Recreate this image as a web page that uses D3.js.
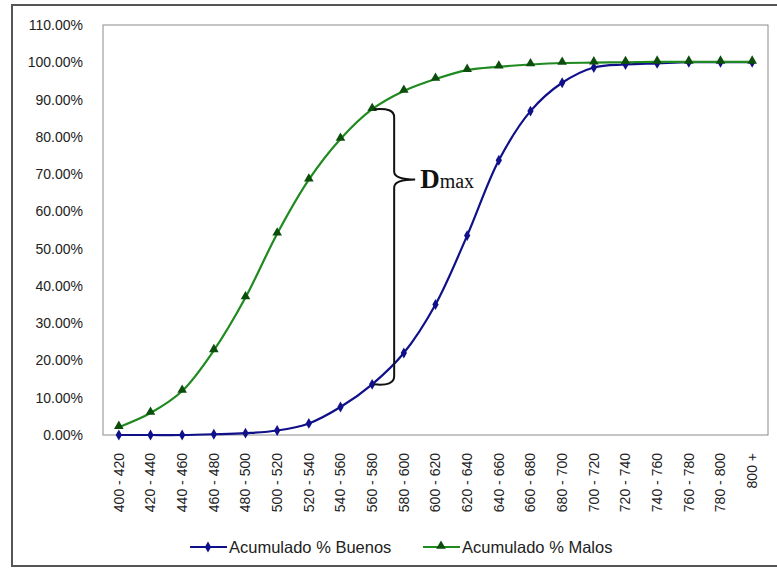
<!DOCTYPE html>
<html>
<head>
<meta charset="utf-8">
<script src="https://cdnjs.cloudflare.com/ajax/libs/d3/7.8.5/d3.min.js"></script>
<style>
  body { margin: 0; background: #fff; }
  svg { display: block; }
</style>
</head>
<body>
<script>
// rangos de score
var categories = ['400 - 420', '420 - 440', '440 - 460', '460 - 480', '480 - 500', '500 - 520',
	'520 - 540', '540 - 560', '560 - 580', '580 - 600', '600 - 620', '620 - 640', '640 - 660',
	'660 - 680', '680 - 700', '700 - 720', '720 - 740', '740 - 760', '760 - 780', '780 - 800', '800 +'];

var buenos = [0.0, 0.0, 0.0, 0.2, 0.5, 1.2, 3.1, 7.5, 13.6, 22.0, 35.0, 53.5, 73.7,
	86.9, 94.5, 98.6, 99.4, 99.7, 100.0, 100.0, 100.0];
var malos = [2.1, 5.9, 11.8, 22.7, 36.9, 54.0, 68.5, 79.4, 87.4, 92.3, 95.5, 97.9, 98.8,
	99.4, 99.8, 99.9, 100.0, 100.1, 100.1, 100.1, 100.1];

var yTicks = [0, 10, 20, 30, 40, 50, 60, 70, 80, 90, 100, 110];
var seriesNames = ['Acumulado % Buenos', 'Acumulado % Malos'];
var dmaxIndex = 8;

var svgWidth = 777, svgHeight = 570;
var plot = {left: 103, top: 25, right: 768, bottom: 435};
var font = 'Arial, "Liberation Sans", sans-serif';

var svg = d3.select('body').append('svg')
	.attr('width', svgWidth)
	.attr('height', svgHeight)
	.style('font-family', font);

// marco exterior
svg.append('rect')
	.attr('x', 12).attr('y', 5)
	.attr('width', 780 - 12).attr('height', 566 - 5)
	.attr('fill', '#fff')
	.attr('stroke', '#555').attr('stroke-width', 2);

var x = d3.scaleBand()
	.domain(categories)
	.range([plot.left, plot.right]);

var y = d3.scaleLinear()
	.domain([0, 110])
	.range([plot.bottom, plot.top]);

var cx = function(d, i) { return x(categories[i]) + x.bandwidth() / 2; };

// area del grafico
svg.append('rect')
	.attr('x', plot.left).attr('y', plot.top)
	.attr('width', plot.right - plot.left).attr('height', plot.bottom - plot.top)
	.attr('fill', '#fff')
	.attr('stroke', '#8c8c8c').attr('stroke-width', 1);

// eje y
var yAxis = svg.append('g')
	.attr('transform', 'translate(' + (plot.left - 17) + ',0)')
	.call(d3.axisLeft(y).tickValues(yTicks).tickSize(0)
		.tickFormat(function(d) { return d.toFixed(2) + '%'; }));
yAxis.select('.domain').remove();
yAxis.selectAll('text').attr('font-size', 14).attr('fill', '#222')
	.attr('font-family', font);

// eje x
var xAxis = svg.append('g')
	.attr('transform', 'translate(0,' + (plot.bottom + 18) + ')')
	.call(d3.axisBottom(x).tickSize(0));
xAxis.select('.domain').remove();
xAxis.selectAll('text')
	.attr('font-size', 14).attr('fill', '#222')
	.attr('font-family', font)
	.attr('transform', 'rotate(-90)')
	.attr('x', 0).attr('y', 0).attr('dy', '0.35em')
	.style('text-anchor', 'end');

var line = d3.line()
	.x(cx)
	.y(function(d) { return y(d); })
	.curve(d3.curveCatmullRom.alpha(0.5));

var blue = '#10108a', green = '#1f8a1f', darkGreen = '#0b4d0b';

svg.append('path').datum(buenos)
	.attr('d', line).attr('fill', 'none')
	.attr('stroke', blue).attr('stroke-width', 2.2);
svg.append('path').datum(malos)
	.attr('d', line).attr('fill', 'none')
	.attr('stroke', green).attr('stroke-width', 2.2);

var diamond = d3.symbol().type(d3.symbolDiamond).size(34);
var triangle = d3.symbol().type(d3.symbolTriangle).size(40);

svg.selectAll('.mk-b').data(buenos).enter().append('path')
	.attr('class', 'mk-b')
	.attr('d', diamond)
	.attr('transform', function(d, i) { return 'translate(' + cx(d, i) + ',' + y(d) + ')'; })
	.attr('fill', blue);

svg.selectAll('.mk-m').data(malos).enter().append('path')
	.attr('class', 'mk-m')
	.attr('d', triangle)
	.attr('transform', function(d, i) { return 'translate(' + cx(d, i) + ',' + (y(d) - 1) + ')'; })
	.attr('fill', darkGreen);

// llave Dmax
var bx = cx(null, dmaxIndex);
var yTop = y(malos[dmaxIndex]), yBot = y(buenos[dmaxIndex]);
var vx = bx + 22, tipX = vx + 21, yMid = yTop + (yBot - yTop) * 0.255;
var brace = d3.path();
brace.moveTo(bx + 2, yTop);
brace.quadraticCurveTo(vx, yTop - 2, vx, yTop + 8);
brace.lineTo(vx, yMid - 8);
brace.quadraticCurveTo(vx, yMid, tipX, yMid);
brace.moveTo(vx, yMid + 8);
brace.quadraticCurveTo(vx, yMid, tipX, yMid);
brace.moveTo(vx, yMid + 8);
brace.lineTo(vx, yBot - 8);
brace.quadraticCurveTo(vx, yBot + 2, bx + 2, yBot);
svg.append('path')
	.attr('d', brace.toString())
	.attr('fill', 'none').attr('stroke', '#111').attr('stroke-width', 2);

var dm = svg.append('text')
	.attr('x', tipX + 5).attr('y', yMid + 9)
	.attr('font-family', '"Liberation Serif", "Times New Roman", serif')
	.attr('fill', '#111');
dm.append('tspan').attr('font-size', 27).attr('font-weight', 'bold').text('D');
dm.append('tspan').attr('font-size', 20).text('max');

// leyenda
var legend = svg.append('g').attr('transform', 'translate(0,547)');
var legendItems = [
	{name: seriesNames[0], x: 190, color: blue, sym: diamond, mk: blue},
	{name: seriesNames[1], x: 423, color: green, sym: triangle, mk: darkGreen}
];
legendItems.forEach(function(it) {
	legend.append('line')
		.attr('x1', it.x).attr('x2', it.x + 37)
		.attr('y1', 0).attr('y2', 0)
		.attr('stroke', it.color).attr('stroke-width', 2.2);
	legend.append('path').attr('d', it.sym)
		.attr('transform', 'translate(' + (it.x + 18) + ',' + (it.sym === triangle ? -1 : 0) + ')')
		.attr('fill', it.mk);
	legend.append('text')
		.attr('x', it.x + 39).attr('y', 0).attr('dy', '0.35em')
		.attr('font-size', 16.5).attr('fill', '#222')
		.text(it.name);
});
</script>
</body>
</html>
